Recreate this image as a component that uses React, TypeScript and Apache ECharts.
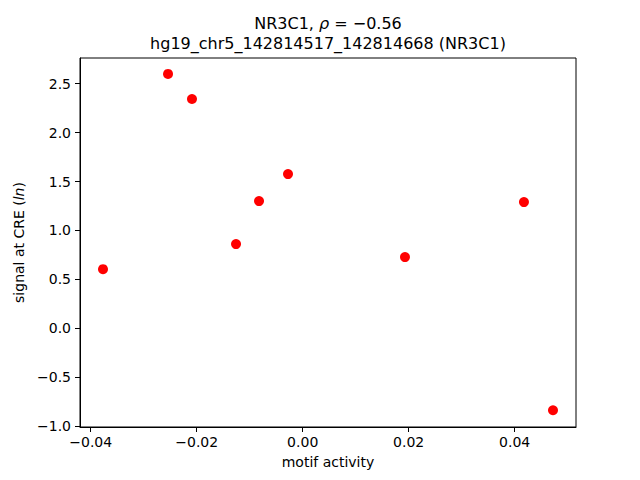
import React, { useEffect, useRef } from "react";
import * as echarts from "echarts";

const motifActivity = [-0.03768, -0.02541, -0.02089, -0.01258, -0.00824, -0.00277, 0.0193, 0.04175, 0.04723];
const signalAtCRE = [0.604, 2.6, 2.344, 0.86, 1.3, 1.576, 0.727, 1.29, -0.839];
const xTicks = [-0.04, -0.02, 0.0, 0.02, 0.04];
const yTicks = [-1.0, -0.5, 0.0, 0.5, 1.0, 1.5, 2.0, 2.5];
const titleLine2 = "hg19_chr5_142814517_142814668 (NR3C1)";

const FONT = "DejaVu Sans";
const minus = (s: string) => s.replace("-", "\u2212");

export default function App() {
  const ref = useRef<HTMLDivElement>(null);
  useEffect(() => {
    if (!ref.current) return;
    const chart = echarts.init(ref.current, null, { renderer: "svg" });
    const points = motifActivity.map((x, i) => [x, signalAtCRE[i]]);
    chart.setOption({
      animation: false,
      backgroundColor: "#fff",
      textStyle: { fontFamily: FONT },
      grid: {
        left: 80,
        top: 58,
        width: 496,
        height: 369,
        show: true,
        borderColor: "#000",
        borderWidth: 1,
        backgroundColor: "transparent",
      },
      graphic: [
        {
          type: "text",
          x: 328,
          y: 23,
          style: {
            text: "{a|NR3C1, }{i|ρ}{a| = \u22120.56}",
            align: "center",
            verticalAlign: "middle",
            rich: {
              a: { fontFamily: FONT, fontSize: 16, fill: "#000" },
              i: { fontFamily: FONT, fontSize: 16, fontStyle: "italic", fill: "#000" },
            },
          },
        },
        {
          type: "text",
          x: 328,
          y: 43,
          style: {
            text: titleLine2,
            align: "center",
            verticalAlign: "middle",
            fontFamily: FONT,
            fontSize: 16,
            fill: "#000",
          },
        },
      ],
      xAxis: {
        type: "value",
        min: -0.04202,
        max: 0.05157,
        name: "motif activity",
        nameLocation: "middle",
        nameGap: 28,
        nameTextStyle: { fontFamily: FONT, fontSize: 14, color: "#000" },
        splitLine: { show: false },
        axisLine: { show: true, onZero: false, lineStyle: { color: "#000", width: 1 } },
        axisTick: { show: true, length: 5, customValues: xTicks, lineStyle: { color: "#000" } },
        axisLabel: {
          customValues: xTicks,
          margin: 8,
          fontFamily: FONT,
          fontSize: 14,
          color: "#000",
          formatter: (v: number) => minus(v.toFixed(2)),
        },
      },
      yAxis: {
        type: "value",
        min: -1.01,
        max: 2.763,
        name: "{a|signal at CRE (}{i|ln}{a|)}",
        nameLocation: "middle",
        nameRotate: 90,
        nameGap: 52,
        nameTextStyle: {
          rich: {
            a: { fontFamily: FONT, fontSize: 14, color: "#000" },
            i: { fontFamily: FONT, fontSize: 14, fontStyle: "italic", color: "#000" },
          },
        },
        splitLine: { show: false },
        axisLine: { show: true, onZero: false, lineStyle: { color: "#000", width: 1 } },
        axisTick: { show: true, length: 5, customValues: yTicks, lineStyle: { color: "#000" } },
        axisLabel: {
          customValues: yTicks,
          margin: 9,
          fontFamily: FONT,
          fontSize: 14,
          color: "#000",
          formatter: (v: number) => minus(v.toFixed(1)),
        },
      },
      series: [
        {
          type: "scatter",
          data: points,
          symbol: "circle",
          symbolSize: 10,
          itemStyle: { color: "#ff0000", opacity: 1 },
        },
      ],
    });
    return () => chart.dispose();
  }, []);
  return <div ref={ref} style={{ width: 640, height: 480, margin: -8 }} />;
}
